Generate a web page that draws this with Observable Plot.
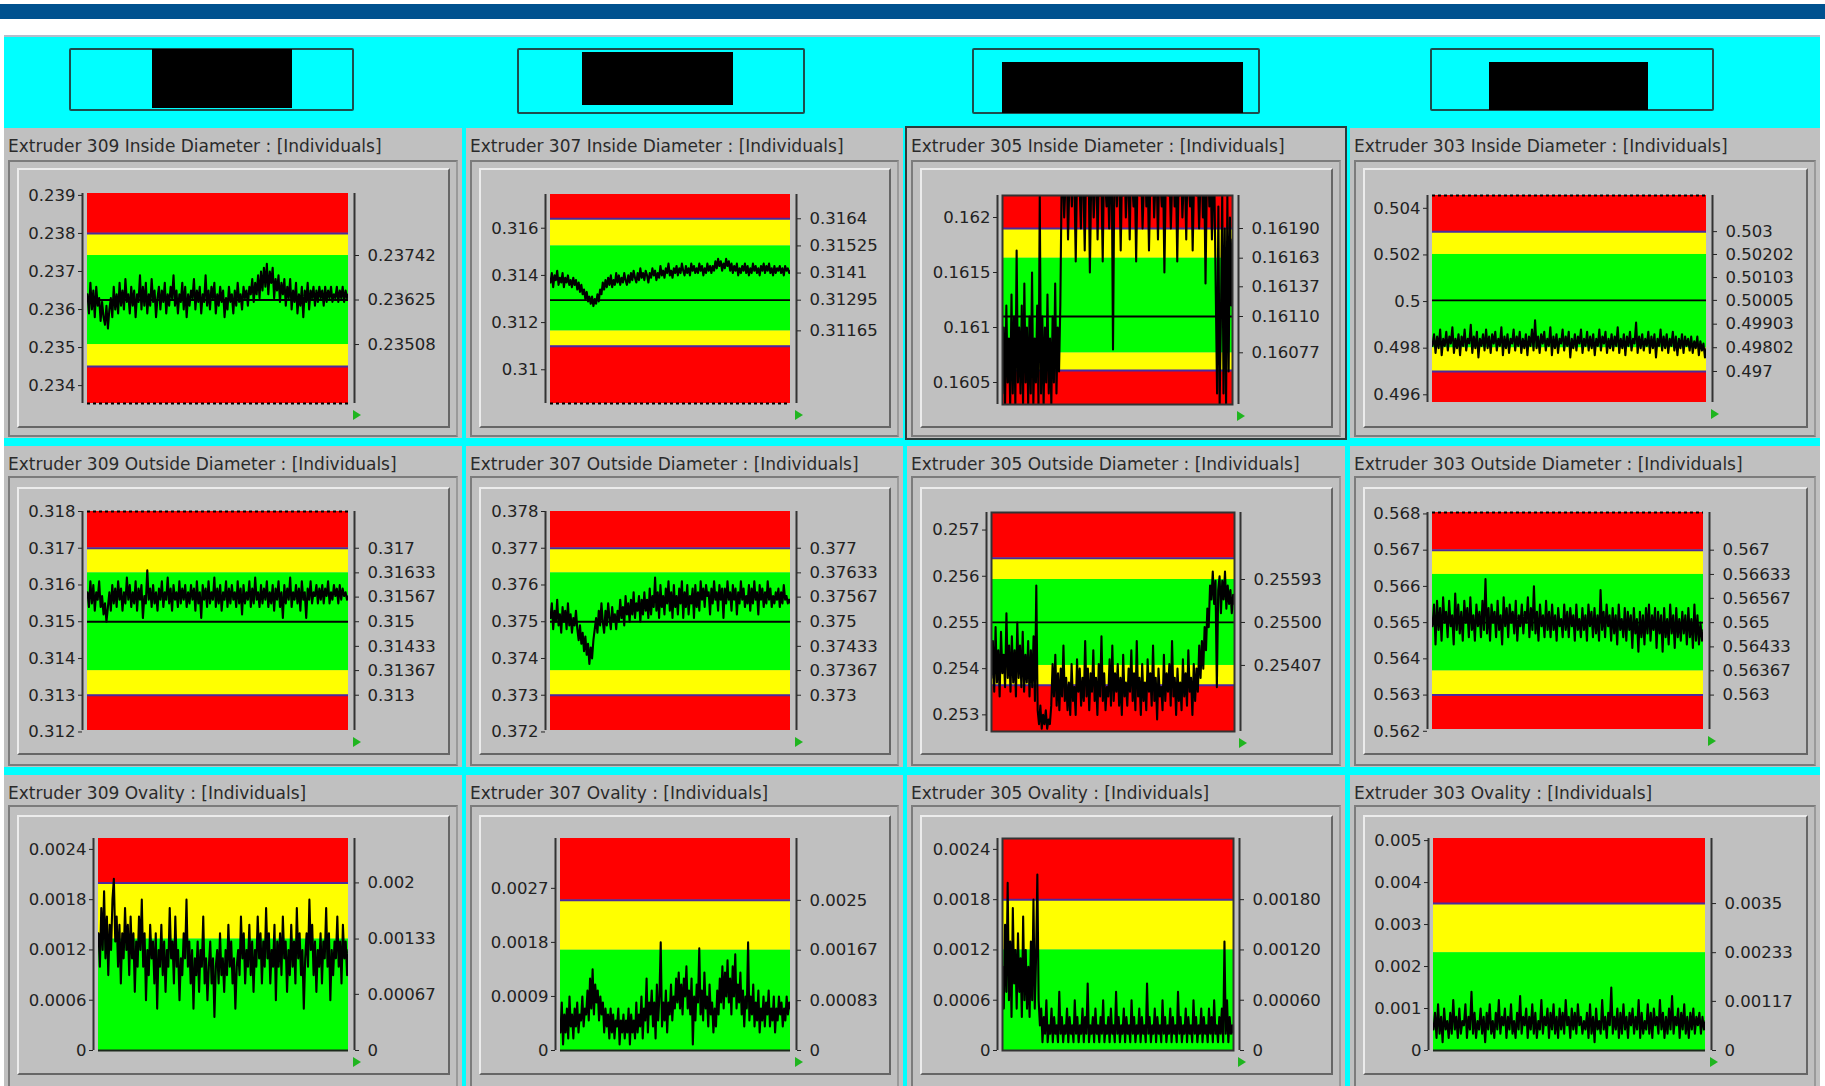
<!DOCTYPE html>
<html><head><meta charset="utf-8">
<script src="https://cdn.jsdelivr.net/npm/d3@7"></script>
<script src="https://cdn.jsdelivr.net/npm/@observablehq/plot@0.6"></script>
<style>
html,body{margin:0;padding:0}
body{width:1825px;height:1086px;overflow:hidden;background:#fff;position:relative;font-family:"DejaVu Sans",sans-serif}
.a{position:absolute;box-sizing:border-box}
.title{font-size:17px;line-height:20px;color:#2a2a2a;white-space:nowrap}
.outer{border:2px solid #7c7c7c;border-right-color:#9a9a9a}
.inner{border:2px solid;border-color:#ececec #666 #666 #ececec}
.tri{width:0;height:0;border-top:5px solid transparent;border-bottom:5px solid transparent;border-left:8px solid #1fb51f}
svg{overflow:visible}
</style></head>
<body>
<div id="root"></div>
<script>
// ---------- DATA ----------
const titles = [
  "Extruder 309 Inside Diameter : [Individuals]",
  "Extruder 307 Inside Diameter : [Individuals]",
  "Extruder 305 Inside Diameter : [Individuals]",
  "Extruder 303 Inside Diameter : [Individuals]",
  "Extruder 309 Outside Diameter : [Individuals]",
  "Extruder 307 Outside Diameter : [Individuals]",
  "Extruder 305 Outside Diameter : [Individuals]",
  "Extruder 303 Outside Diameter : [Individuals]",
  "Extruder 309 Ovality : [Individuals]",
  "Extruder 307 Ovality : [Individuals]",
  "Extruder 305 Ovality : [Individuals]",
  "Extruder 303 Ovality : [Individuals]"
];

const id309 = [0.2364,0.2359,0.2367,0.2360,0.2365,0.2358,0.2366,0.2361,0.2363,0.2357,
0.2362,0.2358,0.2356,0.2361,0.2355,0.2360,0.2363,0.2358,0.2366,0.2360,
0.2364,0.2359,0.2367,0.2361,0.2365,0.2360,0.2368,0.2362,0.2364,0.2359,
0.2366,0.2361,0.2365,0.2358,0.2364,0.2362,0.2369,0.2360,0.2366,0.2361,
0.2367,0.2359,0.2364,0.2361,0.2368,0.2362,0.2365,0.2358,0.2363,0.2366,
0.2360,0.2365,0.2362,0.2367,0.2359,0.2364,0.2361,0.2366,0.2363,0.2369,
0.2361,0.2365,0.2359,0.2364,0.2362,0.2367,0.2360,0.2366,0.2358,0.2364,
0.2361,0.2365,0.2363,0.2368,0.2360,0.2365,0.2362,0.2366,0.2359,0.2364,
0.2362,0.2369,0.2361,0.2365,0.2360,0.2366,0.2363,0.2367,0.2359,0.2364,
0.2361,0.2366,0.2362,0.2365,0.2358,0.2363,0.2360,0.2366,0.2362,0.2364,
0.2359,0.2365,0.2361,0.2367,0.2362,0.2364,0.2360,0.2366,0.2363,0.2365,
0.2361,0.2366,0.2364,0.2368,0.2362,0.2367,0.2364,0.2369,0.2363,0.2370,
0.2365,0.2371,0.2366,0.2372,0.2364,0.2370,0.2367,0.2371,0.2363,0.2368,
0.2365,0.2369,0.2362,0.2367,0.2364,0.2368,0.2361,0.2366,0.2363,0.2368,
0.2360,0.2365,0.2362,0.2367,0.2359,0.2364,0.2361,0.2366,0.2358,0.2365,
0.2362,0.2367,0.2360,0.2365,0.2363,0.2366,0.2361,0.2365,0.2362,0.2366,
0.2363,0.2365,0.2361,0.2366,0.2362,0.2365,0.2363,0.2366,0.2362,0.2364,
0.2363,0.2366,0.2362,0.2365,0.2363,0.2366,0.2362,0.2365,0.2363,0.2364];

const id307 = [0.3137,0.3141,0.3135,0.3140,0.3138,0.3142,0.3136,0.3139,0.3137,0.3141,
0.3135,0.3139,0.3137,0.3140,0.3136,0.3138,0.3135,0.3139,0.3136,0.3138,
0.3134,0.3137,0.3133,0.3136,0.3132,0.3134,0.3130,0.3133,0.3129,0.3131,
0.3128,0.3131,0.3127,0.3130,0.3128,0.3132,0.3129,0.3134,0.3132,0.3137,
0.3134,0.3138,0.3135,0.3139,0.3136,0.3140,0.3135,0.3138,0.3136,0.3141,
0.3137,0.3140,0.3136,0.3139,0.3137,0.3141,0.3138,0.3136,0.3140,0.3137,
0.3141,0.3138,0.3142,0.3139,0.3137,0.3141,0.3138,0.3143,0.3139,0.3141,
0.3138,0.3142,0.3140,0.3137,0.3141,0.3139,0.3143,0.3140,0.3142,0.3138,
0.3141,0.3139,0.3144,0.3140,0.3142,0.3139,0.3143,0.3141,0.3145,0.3140,
0.3142,0.3139,0.3143,0.3141,0.3144,0.3140,0.3143,0.3141,0.3145,0.3142,
0.3140,0.3144,0.3141,0.3143,0.3140,0.3145,0.3142,0.3144,0.3141,0.3143,
0.3141,0.3145,0.3142,0.3144,0.3140,0.3143,0.3141,0.3145,0.3142,0.3144,
0.3141,0.3144,0.3142,0.3146,0.3143,0.3147,0.3144,0.3146,0.3142,0.3145,
0.3143,0.3147,0.3144,0.3146,0.3142,0.3145,0.3141,0.3144,0.3142,0.3145,
0.3140,0.3143,0.3141,0.3144,0.3142,0.3145,0.3141,0.3144,0.3140,0.3143,
0.3141,0.3145,0.3142,0.3144,0.3141,0.3143,0.3140,0.3144,0.3142,0.3145,
0.3141,0.3144,0.3142,0.3145,0.3141,0.3143,0.3140,0.3144,0.3141,0.3143,
0.3142,0.3144,0.3141,0.3143,0.3140,0.3144,0.3142,0.3143,0.3141,0.3142];

const id305 = [0.1604,0.1610,0.1603,0.1612,0.1605,0.1609,0.1603,0.1613,0.1604,0.1611,
0.1603,0.1617,0.1605,0.1610,0.1604,0.1612,0.1603,0.1614,0.1605,0.1610,
0.1603,0.1611,0.1604,0.1615,0.1603,0.1609,0.1605,0.1612,0.1603,0.1622,
0.1604,0.1611,0.1603,0.1610,0.1605,0.1613,0.1604,0.1609,0.1603,0.1611,
0.1605,0.1614,0.1604,0.1610,0.1606,0.1612,
0.1623,0.1624,0.1620,0.1623,0.1625,0.1618,0.1623,0.1624,0.1621,0.1625,
0.1623,0.1616,0.1624,0.1622,0.1623,0.1619,0.1625,0.1623,0.1617,0.1624,
0.1622,0.1625,0.1615,0.1623,0.1624,0.1620,0.1623,0.1625,0.1618,0.1624,
0.1622,0.1623,0.1616,0.1625,0.1623,0.1621,0.1624,0.1619,0.1623,0.1625,
0.1608,0.1623,0.1624,0.1621,0.1625,0.1623,0.1617,0.1624,0.1622,0.1625,
0.1620,0.1623,0.1624,0.1618,0.1625,0.1623,0.1621,0.1624,0.1616,0.1623,
0.1625,0.1622,0.1624,0.1619,0.1623,0.1625,0.1621,0.1624,0.1617,0.1623,
0.1622,0.1625,0.1620,0.1623,0.1624,0.1618,0.1625,0.1623,0.1621,0.1624,
0.1615,0.1623,0.1625,0.1622,0.1624,0.1619,0.1623,0.1625,0.1621,0.1624,
0.1616,0.1623,0.1622,0.1625,0.1620,0.1623,0.1624,0.1618,0.1625,0.1623,
0.1621,0.1624,0.1617,0.1623,0.1625,0.1622,0.1624,0.1619,0.1623,0.1625,
0.1620,0.1624,0.1614,0.1623,0.1625,0.1621,0.1624,0.1618,0.1623,0.1622,
0.1613,0.1604,0.1621,0.1603,0.1611,0.1622,0.1604,0.1619,0.1603,0.1622,0.1606,0.1620,0.1612,0.1618];

const id303 = [0.4981,0.4986,0.4978,0.4985,0.4980,0.4988,0.4977,0.4984,0.4981,0.4987,
0.4979,0.4985,0.4982,0.4989,0.4978,0.4984,0.4980,0.4986,0.4977,0.4985,
0.4981,0.4988,0.4979,0.4984,0.4982,0.4990,0.4978,0.4985,0.4980,0.4987,
0.4976,0.4984,0.4981,0.4986,0.4979,0.4988,0.4980,0.4985,0.4978,0.4986,
0.4982,0.4987,0.4979,0.4984,0.4981,0.4989,0.4977,0.4985,0.4980,0.4986,
0.4978,0.4984,0.4982,0.4988,0.4979,0.4985,0.4981,0.4987,0.4978,0.4984,
0.4980,0.4986,0.4977,0.4985,0.4981,0.4988,0.4979,0.4992,0.4980,0.4985,
0.4978,0.4986,0.4982,0.4987,0.4979,0.4984,0.4981,0.4989,0.4977,0.4985,
0.4980,0.4986,0.4978,0.4984,0.4982,0.4988,0.4979,0.4985,0.4981,0.4987,
0.4976,0.4984,0.4980,0.4986,0.4979,0.4985,0.4982,0.4988,0.4978,0.4984,
0.4981,0.4987,0.4979,0.4985,0.4980,0.4986,0.4977,0.4984,0.4981,0.4988,
0.4979,0.4985,0.4982,0.4987,0.4978,0.4984,0.4980,0.4986,0.4979,0.4985,
0.4981,0.4989,0.4978,0.4984,0.4980,0.4986,0.4977,0.4985,0.4981,0.4987,
0.4979,0.4984,0.4982,0.4991,0.4978,0.4985,0.4980,0.4986,0.4979,0.4984,
0.4981,0.4987,0.4978,0.4985,0.4980,0.4986,0.4976,0.4984,0.4981,0.4988,
0.4979,0.4985,0.4980,0.4986,0.4978,0.4984,0.4981,0.4987,0.4979,0.4985,
0.4977,0.4984,0.4980,0.4986,0.4978,0.4985,0.4981,0.4984,0.4979,0.4985,
0.4978,0.4983,0.4980,0.4985,0.4977,0.4983,0.4979,0.4982,0.4976,0.4980];

const od309 = [0.3158,0.3154,0.3161,0.3155,0.3160,0.3153,0.3158,0.3156,0.3161,0.3154,
0.3157,0.3152,0.3155,0.3150,0.3154,0.3158,0.3153,0.3160,0.3155,0.3159,
0.3154,0.3161,0.3156,0.3159,0.3153,0.3158,0.3155,0.3162,0.3156,0.3160,
0.3154,0.3158,0.3155,0.3161,0.3153,0.3159,0.3156,0.3160,0.3151,0.3157,
0.3155,0.3164,0.3156,0.3159,0.3154,0.3160,0.3155,0.3158,0.3153,0.3159,
0.3156,0.3161,0.3154,0.3158,0.3156,0.3162,0.3155,0.3159,0.3153,0.3160,
0.3156,0.3158,0.3154,0.3161,0.3155,0.3159,0.3156,0.3160,0.3154,0.3158,
0.3155,0.3160,0.3156,0.3159,0.3153,0.3161,0.3155,0.3158,0.3151,0.3160,
0.3156,0.3159,0.3154,0.3161,0.3155,0.3158,0.3156,0.3162,0.3154,0.3159,
0.3155,0.3160,0.3153,0.3158,0.3156,0.3161,0.3154,0.3159,0.3155,0.3160,
0.3156,0.3158,0.3154,0.3161,0.3155,0.3159,0.3152,0.3160,0.3155,0.3158,
0.3156,0.3161,0.3154,0.3159,0.3155,0.3162,0.3156,0.3158,0.3154,0.3160,
0.3155,0.3159,0.3156,0.3161,0.3154,0.3158,0.3155,0.3160,0.3153,0.3159,
0.3156,0.3161,0.3154,0.3158,0.3151,0.3160,0.3155,0.3159,0.3156,0.3162,
0.3154,0.3158,0.3156,0.3160,0.3155,0.3159,0.3153,0.3161,0.3156,0.3158,
0.3151,0.3159,0.3156,0.3161,0.3155,0.3158,0.3157,0.3160,0.3155,0.3159,
0.3156,0.3160,0.3155,0.3159,0.3157,0.3161,0.3155,0.3158,0.3156,0.3160,
0.3157,0.3159,0.3155,0.3160,0.3156,0.3159,0.3157,0.3158,0.3156,0.3157];

const od307 = [0.3751,0.3755,0.3748,0.3753,0.3750,0.3756,0.3749,0.3752,0.3747,0.3754,
0.3750,0.3753,0.3748,0.3755,0.3749,0.3752,0.3747,0.3751,0.3749,0.3753,
0.3748,0.3745,0.3749,0.3744,0.3747,0.3742,0.3746,0.3741,0.3744,0.37385,
0.3743,0.3740,0.3745,0.3748,0.3751,0.3747,0.3753,0.3749,0.3755,0.3750,
0.3747,0.3753,0.3749,0.3755,0.3751,0.3748,0.3754,0.3750,0.3752,0.3748,
0.3753,0.3750,0.3756,0.3751,0.3754,0.3749,0.3757,0.3752,0.3755,0.3750,
0.3756,0.3752,0.3758,0.3751,0.3755,0.3753,0.3757,0.3750,0.3756,0.3752,
0.3758,0.3753,0.3756,0.3751,0.3759,0.3752,0.3757,0.3754,0.3762,0.3753,
0.3758,0.3751,0.3760,0.3754,0.3757,0.3752,0.3759,0.3755,0.3761,0.3753,
0.3758,0.3751,0.3760,0.3754,0.3757,0.3752,0.3759,0.3755,0.3761,0.3751,
0.3758,0.3754,0.3760,0.3752,0.3757,0.3755,0.3759,0.3751,0.3760,0.3754,
0.3758,0.3753,0.3761,0.3756,0.3759,0.3754,0.3760,0.3757,0.3758,0.3752,
0.3759,0.3755,0.3761,0.3756,0.3758,0.3753,0.3760,0.3756,0.3759,0.3751,
0.3759,0.3755,0.3761,0.3756,0.3758,0.3753,0.3760,0.3756,0.3759,0.3752,
0.3758,0.3755,0.3761,0.3756,0.3759,0.3754,0.3757,0.3755,0.3760,0.3753,
0.3759,0.3755,0.3761,0.3756,0.3758,0.3752,0.3760,0.3756,0.3759,0.3754,
0.3758,0.3755,0.3761,0.3756,0.3759,0.3754,0.3757,0.3755,0.3758,0.3756,
0.3759,0.3754,0.3758,0.3755,0.3760,0.3756,0.3757,0.3755,0.3756,0.3755];

const od305 = [0.2538,0.2546,0.2535,0.2549,0.2537,0.2544,0.2534,0.2548,0.2539,0.2543,
0.2536,0.2552,0.2538,0.2545,0.2535,0.2547,0.2537,0.2544,0.2534,0.2550,
0.2538,0.2545,0.2536,0.2548,0.2535,0.2543,0.2537,0.2546,0.2534,0.2544,
0.2536,0.2547,0.2533,0.2558,0.2531,0.2528,0.2532,0.2527,0.2530,0.2528,
0.2531,0.2527,0.2529,0.2528,0.2532,0.2541,0.2534,0.2543,0.2532,0.2539,
0.2531,0.2540,0.2534,0.2545,0.2533,0.2538,0.2531,0.2537,0.2530,0.2541,
0.2533,0.2536,0.2530,0.2542,0.2535,0.2540,0.2532,0.2538,0.2533,0.2546,
0.2534,0.2540,0.2531,0.2539,0.2535,0.2544,0.2533,0.2538,0.2530,0.2541,
0.2534,0.2547,0.2533,0.2539,0.2531,0.2536,0.2534,0.2542,0.2532,0.2545,
0.2533,0.2539,0.2535,0.2541,0.2532,0.2538,0.2530,0.2543,0.2534,0.2537,
0.2532,0.2540,0.2535,0.2544,0.2533,0.2539,0.2531,0.2546,0.2534,0.2538,
0.2530,0.2541,0.2533,0.2537,0.2531,0.2542,0.2535,0.2539,0.2532,0.2545,
0.2533,0.2538,0.2529,0.2540,0.2534,0.2536,0.2531,0.2543,0.2533,0.2539,
0.2535,0.2541,0.2532,0.2546,0.2534,0.2538,0.2530,0.2540,0.2533,0.2537,
0.2531,0.2542,0.2534,0.2539,0.2532,0.2544,0.2535,0.2538,0.2530,0.2541,
0.2533,0.2540,0.2535,0.2545,0.2538,0.2546,0.2540,0.2549,0.2544,0.2553,
0.2549,0.2558,0.2555,0.2561,0.2554,0.2559,0.2536,0.2557,0.2560,0.2552,
0.2559,0.2555,0.2561,0.2553,0.2558,0.2554,0.2557,0.2552,0.2556,0.2554];

const od303 = [0.5649,0.5655,0.5644,0.5656,0.5648,0.5654,0.5645,0.5657,0.5650,0.5653,
0.5646,0.5656,0.5649,0.5652,0.5644,0.5658,0.5648,0.5655,0.5647,0.5653,
0.5645,0.5656,0.5650,0.5654,0.5646,0.5657,0.5648,0.5652,0.5645,0.5655,
0.5649,0.5653,0.5646,0.5656,0.5648,0.5662,0.5647,0.5654,0.5645,0.5655,
0.5650,0.5653,0.5646,0.5656,0.5648,0.5652,0.5644,0.5657,0.5649,0.5654,
0.5646,0.5655,0.5650,0.5653,0.5647,0.5656,0.5645,0.5652,0.5649,0.5655,
0.5647,0.5653,0.5650,0.5657,0.5646,0.5654,0.5648,0.5660,0.5647,0.5653,
0.5645,0.5655,0.5649,0.5652,0.5646,0.5656,0.5648,0.5653,0.5646,0.5655,
0.5648,0.5652,0.5645,0.5654,0.5649,0.5651,0.5646,0.5655,0.5648,0.5653,
0.5646,0.5654,0.5649,0.5652,0.5645,0.5655,0.5648,0.5651,0.5646,0.5654,
0.5648,0.5652,0.5645,0.5655,0.5649,0.5653,0.5646,0.5654,0.5647,0.5652,
0.5645,0.5659,0.5648,0.5653,0.5646,0.5655,0.5649,0.5652,0.5645,0.5654,
0.5647,0.5652,0.5644,0.5655,0.5648,0.5651,0.5646,0.5654,0.5645,0.5653,
0.5648,0.5652,0.5643,0.5654,0.5647,0.5651,0.5642,0.5653,0.5646,0.5652,
0.5644,0.5654,0.5647,0.5655,0.5645,0.5652,0.5648,0.5654,0.5643,0.5653,
0.5647,0.5652,0.5642,0.5654,0.5646,0.5651,0.5644,0.5655,0.5647,0.5652,
0.5643,0.5654,0.5646,0.5651,0.5645,0.5653,0.5647,0.5652,0.5644,0.5654,
0.5646,0.5651,0.5643,0.5655,0.5645,0.5652,0.5644,0.5650,0.5645,0.5648];

const ov309 = [0.0014,0.0010,0.0017,0.0012,0.0019,0.0011,0.0016,0.0009,0.0015,0.0012,
0.0018,0.00205,0.0013,0.0016,0.0010,0.0015,0.0008,0.0014,0.0011,0.0017,
0.0012,0.0015,0.0009,0.0016,0.0011,0.0014,0.0007,0.0013,0.0010,0.0016,
0.0012,0.0018,0.0010,0.0014,0.0006,0.0012,0.0009,0.0015,0.0011,0.0013,
0.0008,0.0014,0.0005,0.0012,0.0010,0.0015,0.0009,0.0013,0.0007,0.0012,
0.0010,0.0017,0.0011,0.0013,0.0008,0.0016,0.0010,0.0012,0.0006,0.0011,
0.0009,0.0014,0.0011,0.0018,0.0010,0.0013,0.0008,0.0012,0.0005,0.0011,
0.0009,0.0013,0.0007,0.0012,0.0010,0.0016,0.0008,0.0011,0.0006,0.0010,
0.0013,0.0008,0.0011,0.0004,0.0010,0.0012,0.0008,0.0014,0.0009,0.0011,
0.0007,0.0012,0.0009,0.0015,0.0010,0.0013,0.0008,0.0011,0.0005,0.0010,
0.0012,0.0009,0.0016,0.0011,0.0014,0.0008,0.0012,0.0010,0.0015,0.0009,
0.0013,0.0007,0.0012,0.0010,0.0016,0.0011,0.0014,0.0008,0.0013,0.0010,
0.0017,0.0011,0.0014,0.0008,0.0012,0.0010,0.0015,0.0006,0.0013,0.0010,
0.0014,0.0009,0.0016,0.0011,0.0013,0.0007,0.0012,0.0009,0.0015,0.0010,
0.0013,0.0008,0.0017,0.0011,0.0014,0.0009,0.0012,0.0005,0.0011,0.0014,
0.0010,0.0018,0.0012,0.0015,0.0009,0.0013,0.0007,0.0012,0.0010,0.0014,
0.0008,0.0013,0.0011,0.0017,0.0010,0.0014,0.0006,0.0012,0.0009,0.0013,
0.0011,0.0016,0.0010,0.0013,0.0008,0.0015,0.0011,0.0013,0.0009,0.0012];

const ov307 = [0.0003,0.0008,0.0001,0.0006,0.0003,0.0007,0.0002,0.0009,0.0004,0.0006,
0.0002,0.0007,0.0004,0.0008,0.0003,0.0006,0.0005,0.0009,0.0004,0.0007,
0.0006,0.0010,0.0005,0.0012,0.0007,0.00135,0.0006,0.0011,0.0008,0.0010,
0.0005,0.0009,0.0006,0.0008,0.0003,0.0007,0.0004,0.0006,0.0002,0.0007,
0.0003,0.0006,0.0002,0.0005,0.0004,0.0007,0.0001,0.0005,0.0003,0.0006,
0.0002,0.0005,0.0003,0.0007,0.0001,0.0006,0.0003,0.0005,0.0002,0.0008,
0.0003,0.0006,0.0004,0.0009,0.0002,0.0007,0.0005,0.0012,0.0003,0.0008,
0.0006,0.0010,0.0004,0.0008,0.0002,0.0011,0.0005,0.0009,0.0018,0.0004,
0.0008,0.0005,0.0010,0.0003,0.0008,0.0006,0.0011,0.0005,0.0009,0.0007,
0.0012,0.0008,0.0013,0.0007,0.0011,0.0006,0.0012,0.0009,0.0014,0.0007,
0.0010,0.0006,0.0012,0.0001,0.0009,0.0005,0.0011,0.0008,0.0017,0.0006,
0.0010,0.0005,0.0013,0.0007,0.0009,0.0004,0.0011,0.0006,0.0008,0.0003,
0.0007,0.0004,0.0010,0.0006,0.0012,0.0008,0.0014,0.0007,0.0013,0.0009,
0.0015,0.0008,0.0012,0.0006,0.0014,0.0009,0.0016,0.0007,0.0011,0.0008,
0.0013,0.0006,0.0010,0.0004,0.0009,0.0007,0.0018,0.0005,0.0009,0.0006,
0.0011,0.0004,0.0008,0.0005,0.0010,0.0003,0.0007,0.0005,0.0009,0.0004,
0.0008,0.0006,0.0010,0.0004,0.0007,0.0005,0.0009,0.0003,0.0007,0.0005,
0.0009,0.0006,0.0008,0.0004,0.0007,0.0005,0.0009,0.0006,0.0008,0.0007];

const ov305 = [0.0010,0.0005,0.0015,0.0007,0.0020,0.0006,0.0013,0.0004,0.0017,0.0008,
0.0012,0.0005,0.0014,0.0007,0.0011,0.0004,0.0016,0.0006,0.0012,0.0005,
0.0010,0.0004,0.0013,0.0006,0.0018,0.0005,0.0011,0.0021,0.0006,0.0003,
0.0005,0.0001,0.0004,0.0002,0.0006,0.0001,0.0003,0.0002,0.0005,0.0001,
0.0004,0.0002,0.0003,0.0001,0.0007,0.0002,0.0004,0.0001,0.0003,0.0002,
0.0005,0.0001,0.0004,0.0002,0.0003,0.0001,0.0006,0.0002,0.0004,0.0001,
0.0003,0.0002,0.0005,0.0001,0.0004,0.0002,0.0008,0.0001,0.0003,0.0002,
0.0004,0.0001,0.0005,0.0002,0.0003,0.0001,0.0004,0.0002,0.0006,0.0001,
0.0003,0.0002,0.0004,0.0001,0.0005,0.0002,0.0003,0.0001,0.0007,0.0002,
0.0004,0.0001,0.0003,0.0002,0.0005,0.0001,0.0004,0.0002,0.0003,0.0001,
0.0006,0.0002,0.0004,0.0001,0.0003,0.0002,0.0005,0.0001,0.0004,0.0002,
0.0003,0.0001,0.0008,0.0002,0.0004,0.0001,0.0003,0.0002,0.0005,0.0001,
0.0004,0.0002,0.0003,0.0001,0.0006,0.0002,0.0004,0.0001,0.0003,0.0002,
0.0005,0.0001,0.0004,0.0002,0.0003,0.0001,0.0007,0.0002,0.0004,0.0001,
0.0003,0.0002,0.0005,0.0001,0.0004,0.0002,0.0003,0.0001,0.0006,0.0002,
0.0004,0.0001,0.0003,0.0002,0.0005,0.0001,0.0004,0.0002,0.0003,0.0001,
0.0005,0.0002,0.0004,0.0001,0.0006,0.0002,0.0003,0.0001,0.0004,0.0002,
0.0005,0.0001,0.0013,0.0002,0.0006,0.0001,0.0004,0.0002,0.0003,0.0002];

const ov303 = [0.0005,0.0009,0.0003,0.0011,0.0004,0.0008,0.0002,0.0010,0.0005,0.0007,
0.0003,0.0009,0.0004,0.0012,0.0005,0.0008,0.0003,0.0010,0.0004,0.0007,
0.0006,0.0011,0.0003,0.0008,0.0005,0.0014,0.0004,0.0009,0.0003,0.0007,
0.0005,0.0010,0.0004,0.0008,0.0002,0.0009,0.0005,0.0011,0.0004,0.0007,
0.0003,0.0009,0.0005,0.0012,0.0004,0.0008,0.0006,0.0010,0.0003,0.0008,
0.0005,0.0011,0.0004,0.0007,0.0003,0.0009,0.0005,0.0013,0.0004,0.0008,
0.0006,0.0010,0.0003,0.0008,0.0005,0.0011,0.0004,0.0009,0.0003,0.0007,
0.0005,0.0012,0.0004,0.0008,0.0006,0.0010,0.0003,0.0009,0.0005,0.0011,
0.0004,0.0008,0.0003,0.0010,0.0005,0.0009,0.0004,0.0012,0.0006,0.0008,
0.0003,0.0010,0.0005,0.0009,0.0004,0.0011,0.0006,0.0008,0.0004,0.0007,
0.0005,0.0009,0.0003,0.0011,0.0004,0.0008,0.0002,0.0010,0.0005,0.0007,
0.0004,0.0012,0.0005,0.0008,0.0003,0.0009,0.0006,0.0015,0.0004,0.0008,
0.0005,0.0010,0.0003,0.0009,0.0004,0.0011,0.0005,0.0008,0.0003,0.0009,
0.0006,0.0010,0.0004,0.0008,0.0005,0.0012,0.0003,0.0009,0.0004,0.0007,
0.0005,0.0011,0.0004,0.0009,0.0003,0.0010,0.0006,0.0008,0.0004,0.0012,
0.0005,0.0009,0.0003,0.0008,0.0004,0.0010,0.0005,0.0013,0.0004,0.0008,
0.0006,0.0010,0.0003,0.0009,0.0005,0.0011,0.0004,0.0008,0.0003,0.0009,
0.0005,0.0010,0.0004,0.0008,0.0006,0.0009,0.0004,0.0008,0.0005,0.0007];

const series = [id309,id307,id305,id303, od309,od307,od305,od303, ov309,ov307,ov305,ov303];

// y extents and control limits per chart (row-major)
const yMin       = [0.23353,0.30857,0.1603,0.49567, 0.31204,0.37204,0.25264,0.56205, 0,0,0,0];
const yMax       = [0.23905,0.31743,0.1622,0.50455, 0.318,0.378,0.25738,0.56804, 0.00253,0.00353,0.00253,0.00505];
const ucl        = [0.2380,0.3164,0.16190,0.503, 0.317,0.377,0.25639,0.567, 0.002,0.0025,0.0018,0.0035];
const zoneHi     = [0.23742,0.31525,0.16163,0.50202, 0.31633,0.37633,0.25593,0.56633, 0.00133,0.00167,0.0012,0.00233];
const centerLine = [0.23625,0.31295,0.16110,0.50005, 0.315,0.375,0.255,0.565, null,null,null,null];
const zoneLo     = [0.23508,0.31165,0.16077,0.49802, 0.31367,0.37367,0.25407,0.56367, null,null,null,null];
const lcl        = [0.2345,0.3110,0.16061,0.497, 0.313,0.373,0.25364,0.563, null,null,null,null];

const leftTicks = [
  ["0.239","0.238","0.237","0.236","0.235","0.234"],
  ["0.316","0.314","0.312","0.31"],
  ["0.162","0.1615","0.161","0.1605"],
  ["0.504","0.502","0.5","0.498","0.496"],
  ["0.318","0.317","0.316","0.315","0.314","0.313","0.312"],
  ["0.378","0.377","0.376","0.375","0.374","0.373","0.372"],
  ["0.257","0.256","0.255","0.254","0.253"],
  ["0.568","0.567","0.566","0.565","0.564","0.563","0.562"],
  ["0.0024","0.0018","0.0012","0.0006","0"],
  ["0.0027","0.0018","0.0009","0"],
  ["0.0024","0.0018","0.0012","0.0006","0"],
  ["0.005","0.004","0.003","0.002","0.001","0"]
];
const rightTicks = [
  ["0.23742","0.23625","0.23508"],
  ["0.3164","0.31525","0.3141","0.31295","0.31165"],
  ["0.16190","0.16163","0.16137","0.16110","0.16077"],
  ["0.503","0.50202","0.50103","0.50005","0.49903","0.49802","0.497"],
  ["0.317","0.31633","0.31567","0.315","0.31433","0.31367","0.313"],
  ["0.377","0.37633","0.37567","0.375","0.37433","0.37367","0.373"],
  ["0.25593","0.25500","0.25407"],
  ["0.567","0.56633","0.56567","0.565","0.56433","0.56367","0.563"],
  ["0.002","0.00133","0.00067","0"],
  ["0.0025","0.00167","0.00083","0"],
  ["0.00180","0.00120","0.00060","0"],
  ["0.0035","0.00233","0.00117","0"]
];

// ---------- LAYOUT (page pixels) ----------
const cols = [[4,462],[466,903],[907,1345],[1350,1820]];
const rows = [
  {top:128, bottom:438, outer:[160,437], inner:[168,428]},
  {top:446, bottom:767, outer:[476,766], inner:[487,755]},
  {top:775, bottom:1086, outer:[805,1092], inner:[815,1075]}
];
const frames = [
  [87,193,348,403],[550,194,790,403],[1002,195,1232,404],[1432,195,1706,402],
  [87,511,348,730],[550,511,790,730],[991,512,1234,731],[1432,512,1703,729],
  [98,838,348,1050],[560,838,790,1050],[1002,838,1233,1050],[1433,838,1705,1050]
];
const edgeStyle = ["dashBottom","dashBottom","frame","dashTop","dashTop","none","frame","dashTop","base","base","frame","base"];
const headerBoxes = [[69,48,354,111],[517,48,805,114],[972,48,1260,114],[1430,48,1714,111]];
const headerBlocks = [[152,49,292,108],[582,52,733,105],[1002,62,1243,113],[1489,62,1648,110]];

const root = document.getElementById("root");
function box(x, y, w, h, css, cls) {
  const d = document.createElement("div");
  d.className = "a" + (cls ? " " + cls : "");
  Object.assign(d.style, {left: x + "px", top: y + "px", width: w + "px", height: h + "px"}, css || {});
  root.appendChild(d);
  return d;
}

// page chrome
box(0, 4, 1825, 15, {background: "#00518f"});
box(4, 35, 1816, 2, {background: "#b4bccb"});
box(4, 37, 1816, 1049, {background: "#00ffff"});
headerBoxes.forEach(([x1,y1,x2,y2]) => box(x1, y1, x2-x1, y2-y1, {border: "2px solid #1d4d4d", borderRadius: "2px"}));
headerBlocks.forEach(([x1,y1,x2,y2]) => box(x1, y1, x2-x1, y2-y1, {background: "#000"}));

function makeChart(k, left, top, width, height) {
  const [fl, ft, fr, fb] = frames[k];
  const data = series[k];
  const n = data.length;
  const lo = yMin[k], hi = yMax[k];
  const xs = {x1: () => 0, x2: () => n - 1, y1: "y1", y2: "y2"};
  const red = [{y1: ucl[k], y2: hi}];
  const yellow = [{y1: zoneHi[k], y2: ucl[k]}];
  if (lcl[k] != null) { red.push({y1: lo, y2: lcl[k]}); yellow.push({y1: lcl[k], y2: zoneLo[k]}); }
  const green = [{y1: zoneLo[k] != null ? zoneLo[k] : lo, y2: zoneHi[k]}];
  const limits = [ucl[k]].concat(lcl[k] != null ? [lcl[k]] : []);
  const lt = leftTicks[k], rt = rightTicks[k];
  const lmap = new Map(lt.map(s => [Number(s), s]));
  const rmap = new Map(rt.map(s => [Number(s), s]));
  const marks = [
    Plot.rect(red, {...xs, fill: "#ff0000"}),
    Plot.rect(yellow, {...xs, fill: "#ffff00"}),
    Plot.rect(green, {...xs, fill: "#00ff00"}),
    Plot.ruleY(limits, {stroke: "#4b2a9e", strokeWidth: 2})
  ];
  if (centerLine[k] != null) marks.push(Plot.ruleY([centerLine[k]], {stroke: "#000", strokeWidth: 1.8}));
  marks.push(Plot.lineY(data, {stroke: "#000", strokeWidth: 2.1, clip: true}));
  const es = edgeStyle[k];
  if (es === "dashTop") marks.push(Plot.ruleY([hi], {stroke: "#000", strokeWidth: 2, strokeDasharray: "3,3"}));
  if (es === "dashBottom") marks.push(Plot.ruleY([lo], {stroke: "#000", strokeWidth: 2, strokeDasharray: "3,3"}));
  if (es === "frame") marks.push(Plot.frame({stroke: "#333", strokeWidth: 2}));
  if (es === "base") marks.push(Plot.ruleY([0], {stroke: "#1c2a1c", strokeWidth: 2}));
  marks.push(
    Plot.ruleX([0], {dx: -5, stroke: "#333", strokeWidth: 2}),
    Plot.ruleX([n - 1], {dx: 6, stroke: "#333", strokeWidth: 2}),
    Plot.axisY({anchor: "left", ticks: lt.map(Number), tickFormat: d => lmap.get(d), dx: -5, tickSize: 4, tickPadding: 3, label: null}),
    Plot.axisY({anchor: "right", ticks: rt.map(Number), tickFormat: d => rmap.get(d), dx: 6, tickSize: 4, tickPadding: 9, label: null})
  );
  const svg = Plot.plot({
    width, height,
    marginLeft: fl - left, marginTop: ft - top,
    marginRight: left + width - fr, marginBottom: top + height - fb,
    x: {domain: [0, n - 1], axis: null},
    y: {domain: [lo, hi], label: null},
    style: {fontFamily: "DejaVu Sans, sans-serif", fontSize: "16.5px", color: "#222", background: "transparent", overflow: "visible"},
    marks
  });
  svg.style.position = "absolute";
  svg.style.left = left + "px";
  svg.style.top = top + "px";
  root.appendChild(svg);
}

// panels
rows.forEach((r, ri) => {
  cols.forEach(([x0, x1], ci) => {
    const k = ri * 4 + ci;
    box(x0, r.top, x1 - x0, r.bottom - r.top, {background: "#c0c0c0"});
    const t = box(x0 + 4, r.top + 8, x1 - x0 - 8, 20, {}, "title");
    t.textContent = titles[k];
    const ox0 = x0 + 4, ox1 = x1 - 4;
    box(ox0, r.outer[0], ox1 - ox0, r.outer[1] - r.outer[0], {}, "outer");
    const ix0 = ox0 + 9, ix1 = ox1 - 8;
    box(ix0, r.inner[0], ix1 - ix0, r.inner[1] - r.inner[0], {}, "inner");
    makeChart(k, ix0 + 2, r.inner[0] + 2, ix1 - ix0 - 4, r.inner[1] - r.inner[0] - 4);
    const [fl, ft, fr, fb] = frames[k];
    box(fr + 5, fb + 7, 8, 10, {}, "tri");
  });
});
// selected panel outline (Extruder 305 Inside Diameter)
box(905, 126, 442, 314, {border: "2px solid #2c3b3b"});
</script>
</body></html>
